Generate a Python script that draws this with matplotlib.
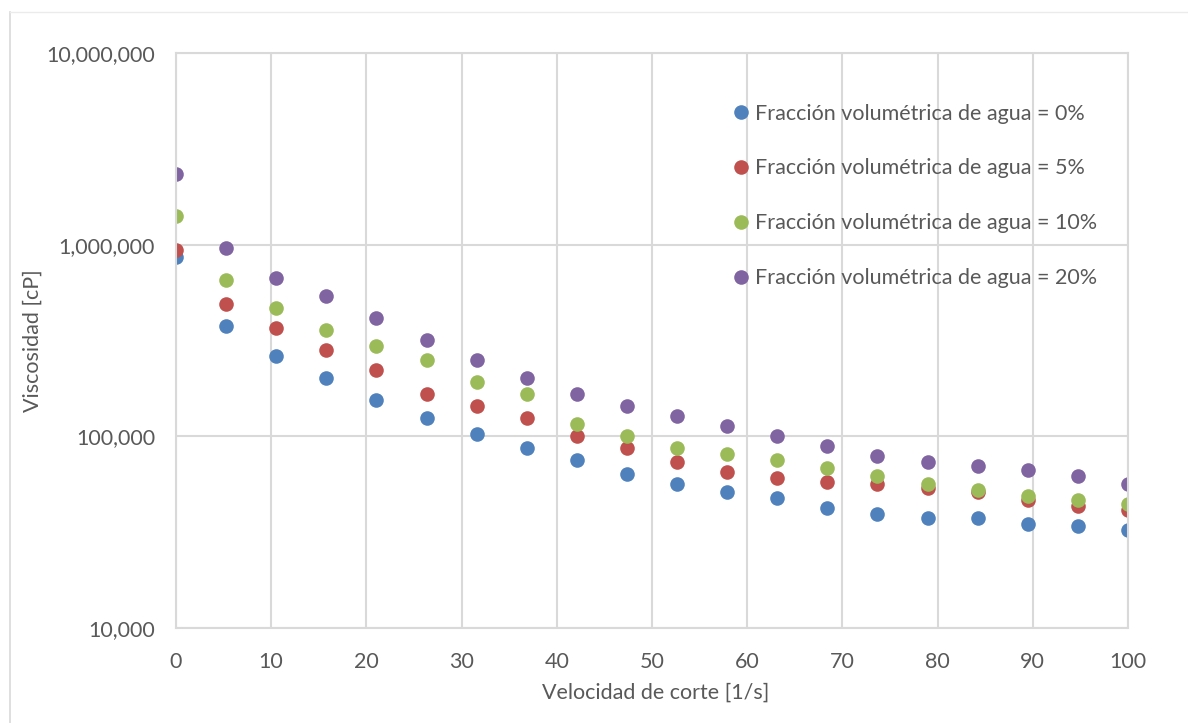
import matplotlib.pyplot as plt
from matplotlib.lines import Line2D
from matplotlib.ticker import FuncFormatter, FixedLocator

plt.rcParams['font.family'] = ['Lato', 'DejaVu Sans']

# Shear rate [1/s]
shear_rate = [0, 5.26, 10.53, 15.79, 21.05, 26.32, 31.58, 36.84, 42.11, 47.37,
              52.63, 57.89, 63.16, 68.42, 73.68, 78.95, 84.21, 89.47, 94.74, 100]

# Viscosity [cP] for each water volume fraction
visc_0 = [864000, 377000, 263000, 201000, 155000, 125000, 103000, 87000, 75300, 63600,
          56400, 51300, 47700, 42300, 39400, 37500, 37500, 34900, 34100, 32500]
visc_5 = [940000, 491000, 368000, 282000, 222000, 166000, 144000, 125000, 100500, 87000,
          73500, 65200, 60700, 57800, 56400, 53800, 51300, 46600, 43300, 41300]
visc_10 = [1414000, 655000, 468000, 358000, 296000, 250000, 192000, 166000, 116000, 100500,
           87000, 80900, 75300, 68400, 62100, 56400, 52500, 48900, 46600, 44400]
visc_20 = [2342000, 966000, 673000, 540000, 416000, 318000, 250000, 202000, 166000, 144000,
           128000, 113000, 100500, 89100, 79000, 73500, 70100, 66800, 62100, 56400]

labels = ['Fracción volumétrica de agua = 0%',
          'Fracción volumétrica de agua = 5%',
          'Fracción volumétrica de agua = 10%',
          'Fracción volumétrica de agua = 20%']
colors = ['#4F81BD', '#C0504D', '#9BBB59', '#8064A2']

text_color = '#595959'
grid_color = '#D9D9D9'

fig = plt.figure(figsize=(11.88, 7.23), dpi=100)
ax = fig.add_axes([0.1481, 0.1314, 0.8014, 0.7953])

for y, c, lab in zip([visc_0, visc_5, visc_10, visc_20], colors, labels):
    ax.plot(shear_rate, y, 'o', color=c, markersize=10.5, markeredgewidth=0, label=lab)

ax.set_yscale('log')
ax.set_ylim(1e4, 1e7)
ax.set_xlim(0, 100)
ax.xaxis.set_major_locator(FixedLocator(range(0, 101, 10)))
ax.yaxis.set_major_locator(FixedLocator([1e4, 1e5, 1e6, 1e7]))
ax.yaxis.set_minor_locator(FixedLocator([]))
ax.yaxis.set_major_formatter(FuncFormatter(lambda v, p: f'{v:,.0f}'))

ax.grid(True, color=grid_color, linewidth=1.5)
ax.set_axisbelow(True)
for s in ax.spines.values():
    s.set_color(grid_color)
    s.set_linewidth(1.5)
ax.tick_params(length=0, labelsize=15.5, colors=text_color)
ax.tick_params(axis='y', pad=15)
ax.tick_params(axis='x', pad=17)

ax.set_xlabel('Velocidad de corte [1/s]', fontsize=15.5, color=text_color, va='center')
ax.xaxis.set_label_coords(0.504, -0.113)
ax.set_ylabel('Viscosidad [cP]', fontsize=15.5, color=text_color, va='center')
ax.yaxis.set_label_coords(-0.150, 0.5)

leg = ax.legend(loc='upper left', bbox_to_anchor=(0.580, 0.912), frameon=False,
                fontsize=15.5, labelspacing=1.62, handletextpad=0.05, handlelength=1.2,
                borderaxespad=0.0, borderpad=0.0)
for t in leg.get_texts():
    t.set_color(text_color)

# outer chart frame
fig.add_artist(Line2D([10 / 1188, 10 / 1188], [0, 1 - 12 / 723], transform=fig.transFigure,
                      color=grid_color, linewidth=1.2))
fig.add_artist(Line2D([10 / 1188, 1], [1 - 12 / 723, 1 - 12 / 723], transform=fig.transFigure,
                      color='#EBEBEB', linewidth=1.0))

fig.savefig('out.png', dpi=100)
